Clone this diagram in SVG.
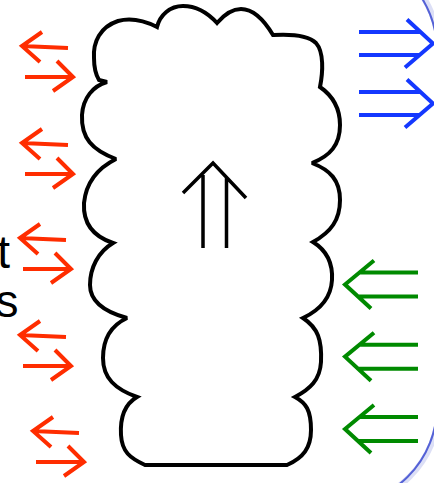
<svg xmlns="http://www.w3.org/2000/svg" xmlns:xlink="http://www.w3.org/1999/xlink" width="434" height="483" viewBox="0 0 434 483">
  <style>
    .cloud { fill: none; stroke: #000; stroke-width: 4; stroke-linejoin: miter; stroke-miterlimit: 2.5; }
    .up { fill: none; stroke: #000; stroke-width: 3.5; stroke-linejoin: miter; }
    .red { fill: none; stroke: #FF2D00; stroke-width: 4; stroke-linejoin: miter; }
    .blue { fill: none; stroke: #1438FF; stroke-width: 4; stroke-linejoin: miter; }
    .green { fill: none; stroke: #008A00; stroke-width: 4; stroke-linejoin: miter; }
    .label { font-family: "Liberation Sans", Arial, sans-serif; font-size: 46px; fill: #000; }
    .frame { fill: none; stroke: #5461D6; stroke-width: 2; }
    .frame-glow { fill: none; stroke: #CDD1F2; stroke-width: 6; opacity: 0.7; }
  </style>
  <defs>
    <!-- left arrow above a right arrow, origin at the left arrow's tip -->
    <path id="swap" d="M46,2 L0,0 M20,-14 L0,0 L18,16 M3,31 L51,31 M35,15 L51,31 L31,45"/>
    <!-- double arrow pointing right, origin at the tip -->
    <path id="dbl-right" d="M-74,-11.5 H-12 M-74,11.5 H-14 M-26,-24 L0,0 L-28,24"/>
    <!-- double arrow pointing left, origin at the tip -->
    <path id="dbl-left" d="M73,-12 H14 M73,12 H13 M29,-24 L0,0 L26,24"/>
  </defs>

  <!-- frame edge on the right -->
  <g id="frame">
    <rect class="frame-glow" x="-298" y="-49" width="737" height="555" rx="100"/>
    <rect class="frame" x="-300" y="-49" width="737" height="555" rx="100"/>
  </g>

  <!-- partially visible labels at the left edge -->
  <g id="labels">
    <text class="label" x="10" y="268" text-anchor="end">t</text>
    <text class="label" x="18.5" y="317" text-anchor="end">s</text>
  </g>

  <!-- cloud-shaped body -->
  <g id="cloud">
    <path class="cloud" d="M107,82
      C93,86 83,98 82,115 C81,138 92,150 116,159
      C98,168 86,183 84,203 C83,222 92,236 113,243
      C98,252 90,268 90,285 C90,302 105,312 127,318
      C110,326 103,340 103,358 C103,378 115,389 137,397
      C125,404 120,418 121,435 C122,452 130,458 145,465
      L287,465
      C303,458 311,448 311,430 C311,410 306,403 295,397
      C310,389 320,380 321,362 C322,340 318,328 303,318
      C320,310 331,298 332,280 C333,262 326,250 313,242
      C331,232 340,220 340,200 C340,180 330,170 312,163
      C330,156 340,145 340,125 C340,108 333,96 320,87
      C323,72 324,52 316,43 C308,35 290,34 273,35
      C264,20 253,9 241,9 C231,9 223,16 217,23
      C207,12 195,6 183,6 C170,6 160,15 157,27
      C147,22 133,17 118,21 C100,27 93,42 94,58
      C94,68 96,75 99,80 Z"/>
  </g>

  <!-- upward double arrow inside the cloud -->
  <g id="rise">
    <path class="up" d="M203,175 V248 M226.5,178 V248 M183,193 L213,163 L246,198"/>
  </g>

  <!-- exchange arrows on the left -->
  <g id="exchange">
    <use class="red" xlink:href="#swap" href="#swap" transform="translate(22,46)"/>
    <use class="red" xlink:href="#swap" href="#swap" transform="translate(22,143)"/>
    <use class="red" xlink:href="#swap" href="#swap" transform="translate(20,238)"/>
    <use class="red" xlink:href="#swap" href="#swap" transform="translate(20,335)"/>
    <use class="red" xlink:href="#swap" href="#swap" transform="translate(33,431)"/>
  </g>

  <!-- outgoing arrows, top right -->
  <g id="outflow">
    <use class="blue" xlink:href="#dbl-right" href="#dbl-right" transform="translate(433,43.5)"/>
    <use class="blue" xlink:href="#dbl-right" href="#dbl-right" transform="translate(433,103.5)"/>
  </g>

  <!-- incoming arrows, lower right -->
  <g id="inflow">
    <use class="green" xlink:href="#dbl-left" href="#dbl-left" transform="translate(345,284.5)"/>
    <use class="green" xlink:href="#dbl-left" href="#dbl-left" transform="translate(345,356.7)"/>
    <use class="green" xlink:href="#dbl-left" href="#dbl-left" transform="translate(345,429)"/>
  </g>
</svg>
